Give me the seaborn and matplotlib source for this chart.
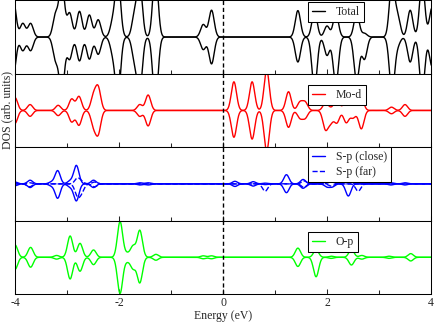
import numpy as np
import pandas as pd
import seaborn as sns
import matplotlib
matplotlib.use("Agg")
import matplotlib.pyplot as plt
from matplotlib.ticker import MultipleLocator

# peak lists: energy (eV), spin-up height, spin-down height
# (heights in units of the half panel height)
tot_e = [-4.03, -3.85, -3.70, -3.22, -3.10, -2.95, -2.76, -2.57, -2.40, -2.12, -2.02,
         -1.70, -1.60, -1.30, -0.38, -0.22, 1.44, 1.76, 2.00, 2.17, 2.57, 2.72,
         3.25, 3.36, 3.60, 3.83, 4.02]
tot_up = [1.0, 0.37, 0.37, 0.6, 1.5, 0.65, 0.7, 0.6, 0.47, 0.4, 1.6,
          0.6, 1.4, 1.8, 0.34, 0.73, 0.72, 0.7, 0.3, 0.65, 0.65, 0.1,
          1.5, 0.55, 0.73, 1.5, 0.8]
tot_dn = [1.0, 0.37, 0.37, 0.6, 1.5, 0.6, 0.65, 0.6, 0.47, 0.4, 1.6,
          0.6, 1.4, 1.8, 0.34, 0.73, 0.68, 1.4, 0.5, 1.3, 1.2, 0.6,
          1.5, 0.2, 0.68, 1.5, 0.8]

mod_e = [-4.00, -3.71, -3.17, -2.91, -2.77, -2.49, -2.40, -1.60, -1.44, 0.21, 0.56,
         0.84, 1.26, 1.48, 1.58, 1.97, 2.07, 2.19, 2.37, 2.50, 2.66, 3.24, 3.50]
mod_up = [0.35, 0.16, 0.14, 0.31, 0.38, 0.39, 0.6, 0.16, 0.42, 0.78, 0.78,
          1.1, 0.51, 0.22, 0.22, 0.2, 0.05, 0.34, 0.3, 0.34, 0.3, 0.09, 0.16]
mod_dn = [0.35, 0.16, 0.14, 0.31, 0.4, 0.39, 0.6, 0.16, 0.42, 0.73, 0.78,
          1.1, 0.46, 0.2, 0.2, 0.5, 0.3, 0.33, 0.33, 0.2, 0.5, 0.09, 0.16]

spc_e = [-4.0, -3.71, -3.30, -3.18, -2.94, -2.82, -2.49, -1.60, -1.44, 0.23, 0.58,
         0.81, 1.22, 1.54, 2.00, 2.10, 2.41, 3.23, 3.50]
spc_up = [0.05, 0.1, 0.05, 0.36, 0.08, 0.5, 0.1, 0.03, 0.03, 0.07, 0.06,
          0.02, 0.25, 0.12, 0.08, 0.08, 0.16, 0.03, 0.03]
spc_dn = [0.05, 0.1, 0.05, 0.39, 0.08, 0.46, 0.1, 0.03, 0.03, 0.07, 0.06,
          0.02, 0.24, 0.12, 0.08, 0.08, 0.33, 0.03, 0.03]

spf_e = [-3.72, -2.80, -2.72, -2.47, 0.81, 1.56, 2.08, 2.60]
spf_up = [0.03, 0.15, 0.05, 0.05, 0.0, 0.08, 0.06, 0.0]
spf_dn = [0.08, 0.3, 0.2, 0.08, 0.2, 0.1, 0.06, 0.2]

op_e = [-4.0, -3.70, -3.20, -2.94, -2.75, -2.49, -1.98, -1.85, -1.73, -1.60, -1.29,
        -0.38, -0.22, 1.44, 1.79, 2.08, 2.47, 2.67, 3.19, 3.61]
op_up = [0.34, 0.27, 0.05, 0.58, 0.38, 0.2, 0.97, 0.1, 0.3, 0.73, 0.08,
         0.04, 0.04, 0.25, 0.2, 0.03, 0.21, 0.05, 0.03, 0.1]
op_dn = [0.33, 0.27, 0.05, 0.59, 0.38, 0.2, 0.98, 0.1, 0.3, 0.69, 0.08,
         0.04, 0.04, 0.25, 0.53, 0.03, 0.21, 0.05, 0.03, 0.1]

sigma = 0.05  # gaussian smearing (eV)
energy = np.linspace(-4.2, 4.2, 1681)


def broaden(centres, heights):
    c = np.asarray(centres)[:, None]
    h = np.asarray(heights)[:, None]
    return (h * np.exp(-(energy - c) ** 2 / (2 * sigma ** 2))).sum(axis=0)


def draw_dos(ax, centres, up, dn, color, label, ls="-"):
    df = pd.DataFrame({"E": energy, "up": broaden(centres, up), "dn": -broaden(centres, dn)})
    sns.lineplot(data=df, x="E", y="up", ax=ax, color=color, lw=1.0, ls=ls,
                 label=label, estimator=None, sort=False)
    sns.lineplot(data=df, x="E", y="dn", ax=ax, color=color, lw=1.0, ls=ls,
                 estimator=None, sort=False, legend=False)


sns.set_style("ticks")
plt.rcParams['font.family'] = ['Liberation Serif', 'DejaVu Serif']
plt.rcParams['axes.unicode_minus'] = False
plt.rcParams['axes.linewidth'] = 0.75

fig, axes = plt.subplots(4, 1, figsize=(4.36, 3.22), dpi=100, sharex=True)
fig.subplots_adjust(left=15/436, right=431/436, top=0.999, bottom=28/322, hspace=0)

draw_dos(axes[0], tot_e, tot_up, tot_dn, "black", "Total")
draw_dos(axes[1], mod_e, mod_up, mod_dn, "#ff0000", "Mo-d")
draw_dos(axes[2], spc_e, spc_up, spc_dn, "#0000ff", "S-p (close)")
draw_dos(axes[2], spf_e, spf_up, spf_dn, "#0000ff", "S-p (far)", ls="--")
draw_dos(axes[3], op_e, op_up, op_dn, "#00ff00", "O-p")

legend_y = [0.975, 0.845, 1.0, 0.845]
for ax, ly in zip(axes, legend_y):
    ax.axvline(0, color="black", lw=1.0, ls=(0, (3, 2)))
    ax.set_xlim(-4, 4)
    ax.set_ylim(-1, 1)
    ax.set_yticks([])
    ax.set_ylabel("")
    ax.set_xlabel("")
    ax.set_xticks([-4, -2, 0, 2, 4])
    ax.xaxis.set_minor_locator(MultipleLocator(1))
    ax.tick_params(axis="x", which="major", direction="in", length=3.6, width=0.75,
                   labelsize=8.5, pad=2)
    ax.tick_params(axis="x", which="minor", direction="in", length=2.6, width=0.75)
    for s in ax.spines.values():
        s.set_color("black")
    leg = ax.legend(loc="upper left", bbox_to_anchor=(0.704, ly), borderaxespad=0,
                    fontsize=8.5, frameon=True, fancybox=False, edgecolor="black",
                    framealpha=1, handlelength=1.1, handletextpad=0.9,
                    borderpad=0.35, labelspacing=0.25)
    leg.get_frame().set_linewidth(0.75)

axes[1].set_ylabel("DOS (arb. units)", fontsize=8.5, labelpad=0)
axes[1].yaxis.set_label_coords(-0.005, 0.5)
axes[3].set_xlabel("Energy (eV)", fontsize=8.5, labelpad=1)

fig.savefig("out.png", dpi=100)
